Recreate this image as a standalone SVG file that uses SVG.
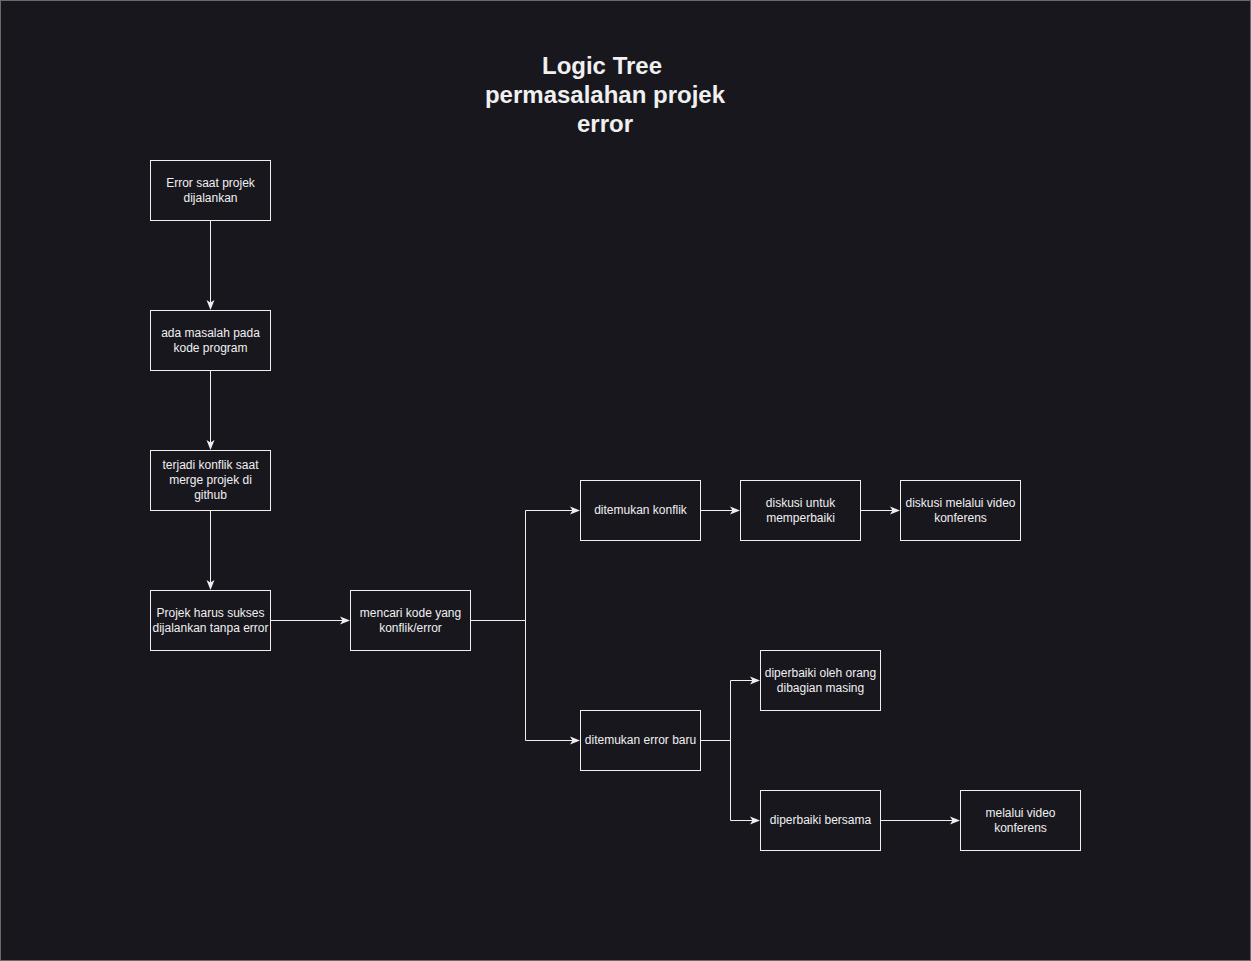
<svg xmlns="http://www.w3.org/2000/svg" width="1251" height="961" viewBox="0 0 1251 961">
<style>
.bg{fill:#18171e;stroke:#6a6a6a;stroke-width:1}
.box{fill:#18171e;stroke:#f0f0f0;stroke-width:1}
.t{font-family:"Liberation Sans",Arial,sans-serif;font-size:12px;fill:#f0f0f0;text-anchor:middle}
.title{font-family:"Liberation Sans",Arial,sans-serif;font-size:24px;font-weight:bold;fill:#f0f0f0;text-anchor:middle}
.c{fill:none;stroke:#f0f0f0;stroke-width:1}
</style>
<defs>
<marker id="ah" viewBox="0 0 10 10" refX="9" refY="5" markerWidth="10" markerHeight="10" markerUnits="userSpaceOnUse" orient="auto">
<path d="M0,1 L10,5 L0,9 L2.5,5 Z" fill="#f0f0f0"/>
</marker>
</defs>
<rect class="bg" x="0.5" y="0.5" width="1250" height="960"/>
<g id="title">
<text class="title" x="602" y="74">Logic Tree</text>
<text class="title" x="605" y="103">permasalahan projek</text>
<text class="title" x="605" y="132">error</text>
</g>
<g id="connectors">
<path class="c" d="M210.5,220 V309" marker-end="url(#ah)"/>
<path class="c" d="M210.5,370 V449" marker-end="url(#ah)"/>
<path class="c" d="M210.5,510 V589" marker-end="url(#ah)"/>
<path class="c" d="M270,620.5 H349" marker-end="url(#ah)"/>
<path class="c" d="M470,620.5 H525.5 V510.5 H579" marker-end="url(#ah)"/>
<path class="c" d="M470,620.5 H525.5 V740.5 H579" marker-end="url(#ah)"/>
<path class="c" d="M700,510.5 H739" marker-end="url(#ah)"/>
<path class="c" d="M860,510.5 H899" marker-end="url(#ah)"/>
<path class="c" d="M700,740.5 H730.5 V680.5 H759" marker-end="url(#ah)"/>
<path class="c" d="M700,740.5 H730.5 V820.5 H759" marker-end="url(#ah)"/>
<path class="c" d="M880,820.5 H959" marker-end="url(#ah)"/>
</g>
<g id="n1"><rect class="box" x="150.5" y="160.5" width="120" height="60"/><text class="t" x="210.5" y="187">Error saat projek</text><text class="t" x="210.5" y="202">dijalankan</text></g>
<g id="n2"><rect class="box" x="150.5" y="310.5" width="120" height="60"/><text class="t" x="210.5" y="337">ada masalah pada</text><text class="t" x="210.5" y="352">kode program</text></g>
<g id="n3"><rect class="box" x="150.5" y="450.5" width="120" height="60"/><text class="t" x="210.5" y="469">terjadi konflik saat</text><text class="t" x="210.5" y="484">merge projek di</text><text class="t" x="210.5" y="499">github</text></g>
<g id="n4"><rect class="box" x="150.5" y="590.5" width="120" height="60"/><text class="t" x="210.5" y="617">Projek harus sukses</text><text class="t" x="210.5" y="632">dijalankan tanpa error</text></g>
<g id="n5"><rect class="box" x="350.5" y="590.5" width="120" height="60"/><text class="t" x="410.5" y="617">mencari kode yang</text><text class="t" x="410.5" y="632">konflik/error</text></g>
<g id="n6"><rect class="box" x="580.5" y="480.5" width="120" height="60"/><text class="t" x="640.5" y="514">ditemukan konflik</text></g>
<g id="n7"><rect class="box" x="740.5" y="480.5" width="120" height="60"/><text class="t" x="800.5" y="507">diskusi untuk</text><text class="t" x="800.5" y="522">memperbaiki</text></g>
<g id="n8"><rect class="box" x="900.5" y="480.5" width="120" height="60"/><text class="t" x="960.5" y="507">diskusi melalui video</text><text class="t" x="960.5" y="522">konferens</text></g>
<g id="n9"><rect class="box" x="580.5" y="710.5" width="120" height="60"/><text class="t" x="640.5" y="744">ditemukan error baru</text></g>
<g id="n10"><rect class="box" x="760.5" y="650.5" width="120" height="60"/><text class="t" x="820.5" y="677">diperbaiki oleh orang</text><text class="t" x="820.5" y="692">dibagian masing</text></g>
<g id="n11"><rect class="box" x="760.5" y="790.5" width="120" height="60"/><text class="t" x="820.5" y="824">diperbaiki bersama</text></g>
<g id="n12"><rect class="box" x="960.5" y="790.5" width="120" height="60"/><text class="t" x="1020.5" y="817">melalui video</text><text class="t" x="1020.5" y="832">konferens</text></g>
</svg>
